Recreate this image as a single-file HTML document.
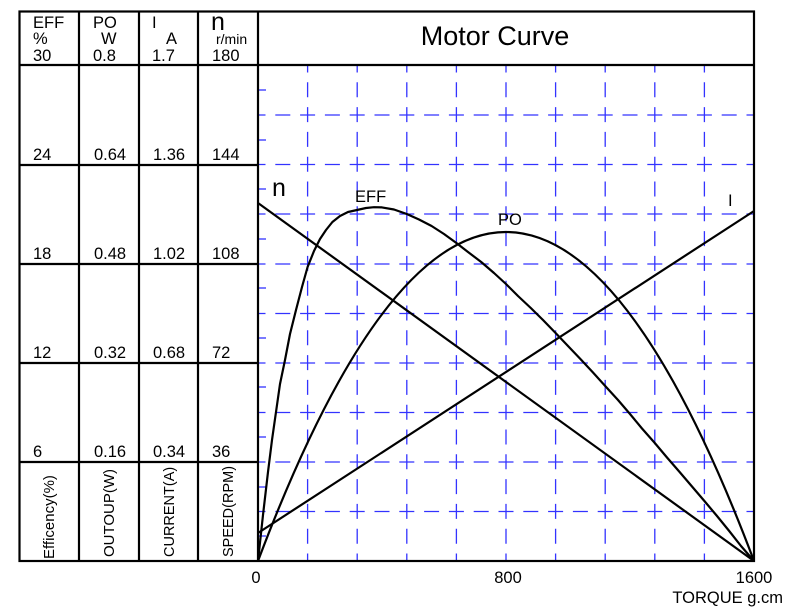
<!DOCTYPE html>
<html><head><meta charset="utf-8"><style>
body{margin:0;background:#fff;}
svg{display:block;font-family:"Liberation Sans",Arial,sans-serif;}
</style></head><body>
<svg width="800" height="612" viewBox="0 0 800 612" xmlns="http://www.w3.org/2000/svg">
<g stroke="#3333ff" stroke-width="1.3" fill="none" stroke-dasharray="15 9.8" stroke-dashoffset="7.5">
<line x1="307.6" y1="65" x2="307.6" y2="561"/><line x1="357.2" y1="65" x2="357.2" y2="561"/>
<line x1="406.8" y1="65" x2="406.8" y2="561"/><line x1="456.4" y1="65" x2="456.4" y2="561"/>
<line x1="506" y1="65" x2="506" y2="561"/><line x1="555.6" y1="65" x2="555.6" y2="561"/>
<line x1="605.2" y1="65" x2="605.2" y2="561"/><line x1="654.8" y1="65" x2="654.8" y2="561"/>
<line x1="704.4" y1="65" x2="704.4" y2="561"/>
</g>
<g stroke="#3333ff" stroke-width="1.3" fill="none" stroke-dasharray="15 9.8" stroke-dashoffset="-17.3">
<line x1="258" y1="115" x2="754" y2="115"/><line x1="258" y1="164.5" x2="754" y2="164.5"/>
<line x1="258" y1="214" x2="754" y2="214"/><line x1="258" y1="264" x2="754" y2="264"/>
<line x1="258" y1="313.5" x2="754" y2="313.5"/><line x1="258" y1="363" x2="754" y2="363"/>
<line x1="258" y1="412.5" x2="754" y2="412.5"/><line x1="258" y1="462" x2="754" y2="462"/>
<line x1="258" y1="511.5" x2="754" y2="511.5"/>
</g>
<g stroke="#3333ff" stroke-width="1.3">
<line x1="258" y1="90" x2="266" y2="90"/><line x1="258" y1="140" x2="266" y2="140"/>
<line x1="258" y1="189" x2="266" y2="189"/><line x1="258" y1="239" x2="266" y2="239"/>
<line x1="258" y1="288" x2="266" y2="288"/><line x1="258" y1="338" x2="266" y2="338"/>
<line x1="258" y1="387" x2="266" y2="387"/><line x1="258" y1="437" x2="266" y2="437"/>
<line x1="258" y1="487" x2="266" y2="487"/><line x1="258" y1="536" x2="266" y2="536"/>
</g>
<g stroke="#000" stroke-width="2.2" fill="none">
<rect x="19.5" y="11.5" width="734.5" height="549.5"/>
<line x1="19" y1="65" x2="754" y2="65"/>
<line x1="19" y1="165" x2="258" y2="165"/><line x1="19" y1="264" x2="258" y2="264"/>
<line x1="19" y1="363" x2="258" y2="363"/><line x1="19" y1="462" x2="258" y2="462"/>
<line x1="79" y1="11" x2="79" y2="561"/><line x1="139" y1="11" x2="139" y2="561"/>
<line x1="198" y1="11" x2="198" y2="561"/><line x1="258" y1="11" x2="258" y2="561"/>
</g>
<g stroke="#000" stroke-width="2.2" fill="none" stroke-linejoin="round">
<line x1="258" y1="203" x2="754" y2="561"/>
<line x1="258" y1="533" x2="754" y2="211"/>
<path d="M258,561 Q506,-97 754,561"/>
<polyline points="258,561 263,515 268,472 272,440 276,412 280,384 285,360 290,334 296,310 302,287 307.6,267 314,251 320,239 326,230 332.4,222 340,216 348,212 357,210 366,208 374,207.2 382,207.4 394,209.5 406.8,214 419,219.5 431.6,226 444,234 456.4,243 468,252 481.2,262 494,273 506,284 518,296 530.8,308 543,320 555.6,333 568,346 580.4,359 593,372.5 605.2,386 618,400 630,414 642,428.5 654.8,443 667,457.5 679.6,472 692,486.5 704.4,501 717,516 729.2,531 741,546 754,561"/>
</g>
<g fill="#000" font-size="16.5">
<text x="33" y="28">EFF</text><text x="33" y="44">%</text><text x="33" y="61">30</text>
<text x="93" y="28">PO</text><text x="101" y="44">W</text><text x="93" y="61">0.8</text>
<text x="152" y="28">I</text><text x="166" y="44">A</text><text x="152" y="61">1.7</text>
<text x="211" y="30" font-size="25">n</text><text x="216" y="44" font-size="14">r/min</text><text x="212" y="61">180</text>
<text x="33" y="160">24</text><text x="94" y="160">0.64</text><text x="153" y="160">1.36</text><text x="212" y="160">144</text>
<text x="33" y="259">18</text><text x="94" y="259">0.48</text><text x="153" y="259">1.02</text><text x="212" y="259">108</text>
<text x="33" y="358">12</text><text x="94" y="358">0.32</text><text x="153" y="358">0.68</text><text x="212" y="358">72</text>
<text x="33" y="457">6</text><text x="94" y="457">0.16</text><text x="153" y="457">0.34</text><text x="212" y="457">36</text>
<text transform="translate(54,559) rotate(-90)" font-size="15">Efficency(%)</text>
<text transform="translate(114,557) rotate(-90)" font-size="15">OUTOUP(W)</text>
<text transform="translate(174,557) rotate(-90)" font-size="14.5">CURRENT(A)</text>
<text transform="translate(233,557) rotate(-90)" font-size="14.5">SPEED(RPM)</text>
<text x="495" y="45" font-size="27" text-anchor="middle">Motor Curve</text>
<text x="272" y="196" font-size="25">n</text>
<text x="355" y="202">EFF</text>
<text x="498" y="225">PO</text>
<text x="728" y="206">I</text>
<text x="256" y="583" text-anchor="middle">0</text>
<text x="508" y="583" text-anchor="middle">800</text>
<text x="754" y="583" text-anchor="middle">1600</text>
<text x="783" y="603" text-anchor="end">TORQUE g.cm</text>
</g>
</svg>
</body></html>
